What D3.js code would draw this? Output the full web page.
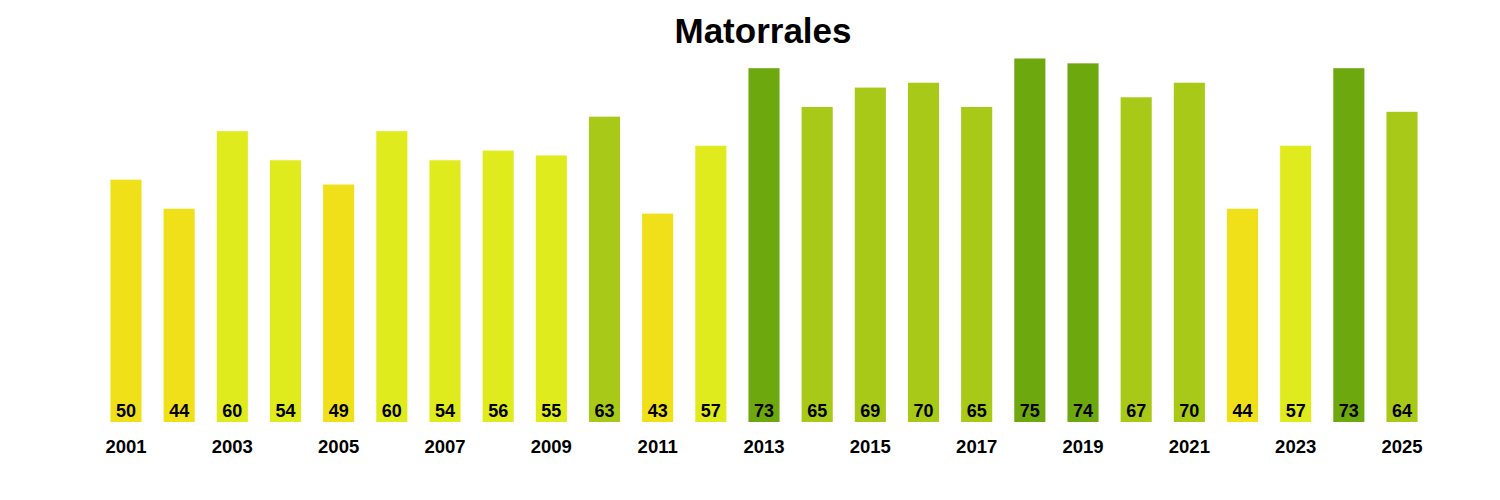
<!DOCTYPE html>
<html>
<head>
<meta charset="utf-8">
<script src="https://cdn.jsdelivr.net/npm/d3@7"></script>
<style>
  html, body { margin: 0; padding: 0; background: #ffffff; }
  svg { display: block; }
  text { font-family: "Liberation Sans", Arial, sans-serif; font-weight: bold; fill: #000; }
</style>
</head>
<body>
<svg id="chart" width="1500" height="500"></svg>
<script>
const title = "Matorrales";
const years = [2001,2002,2003,2004,2005,2006,2007,2008,2009,2010,2011,2012,2013,2014,2015,2016,2017,2018,2019,2020,2021,2022,2023,2024,2025];
const values = [50,44,60,54,49,60,54,56,55,63,43,57,73,65,69,70,65,75,74,67,70,44,57,73,64];
const colorThresholds = [51, 62, 72];
const colorRange = ["#f0e01a", "#e0eb1d", "#a8c917", "#6ea80f"];
const tickYears = [2001,2003,2005,2007,2009,2011,2013,2015,2017,2019,2021,2023,2025];

const svg = d3.select("#chart");
const baseY = 422;

const x = d3.scaleBand()
  .domain(years)
  .range([99.4, 1428.6])
  .paddingInner(0.415)
  .paddingOuter(0.2075);

const y = d3.scaleLinear().domain([0, 75]).range([baseY, 58.5]);
const color = d3.scaleThreshold().domain(colorThresholds).range(colorRange);

svg.append("text")
  .attr("x", 763)
  .attr("y", 43)
  .attr("text-anchor", "middle")
  .style("font-size", "35px")
  .text(title);

const data = years.map((yr, i) => ({ year: yr, value: values[i] }));

svg.selectAll("rect.bar")
  .data(data)
  .join("rect")
  .attr("class", "bar")
  .attr("x", d => x(d.year))
  .attr("width", x.bandwidth())
  .attr("y", d => y(d.value))
  .attr("height", d => y(0) - y(d.value))
  .attr("fill", d => color(d.value));

svg.selectAll("text.val")
  .data(data)
  .join("text")
  .attr("class", "val")
  .attr("x", d => x(d.year) + x.bandwidth() / 2)
  .attr("y", 417)
  .attr("text-anchor", "middle")
  .style("font-size", "18px")
  .text(d => d.value);

const axis = d3.axisBottom(x).tickValues(tickYears).tickSize(0).tickPadding(0);
const g = svg.append("g").attr("transform", `translate(0,${baseY})`).call(axis);
g.select(".domain").remove();
g.selectAll("text")
  .attr("y", 31)
  .attr("dy", 0)
  .style("font-size", "18.5px")
  .style("font-family", "'Liberation Sans', Arial, sans-serif")
  .style("font-weight", "bold")
  .attr("fill", "#000");
</script>
</body>
</html>
